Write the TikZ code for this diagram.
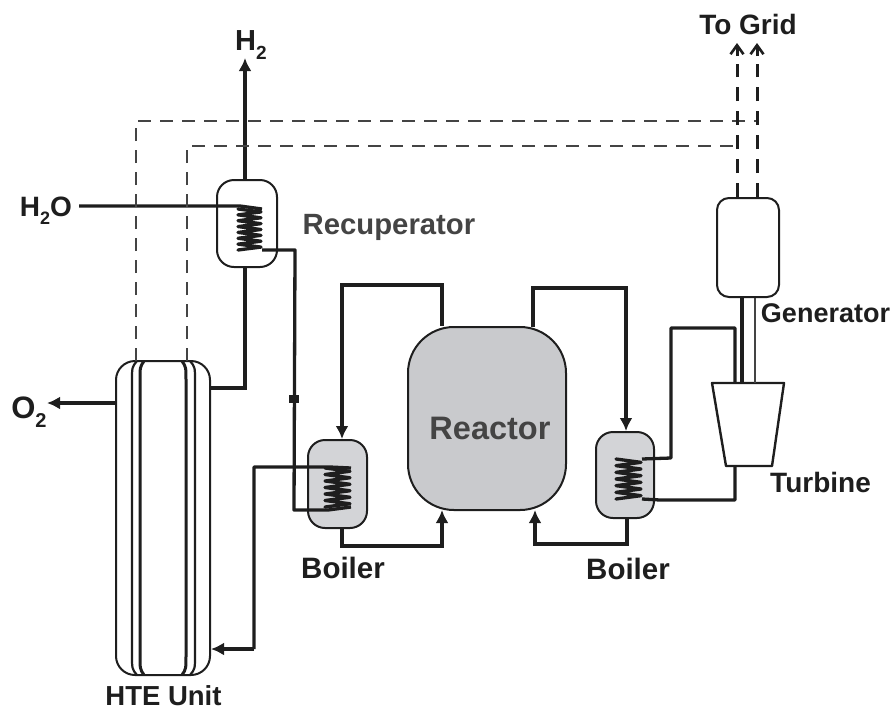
\documentclass[tikz,border=0pt]{standalone}
\usepackage{fontspec}
\setmainfont{Liberation Sans}
\usetikzlibrary{arrows.meta,calc}
\definecolor{vesselgray}{HTML}{D3D4D7}
\definecolor{reactorgray}{HTML}{C9CACD}
\definecolor{inkdark}{HTML}{1E1E1E}
\definecolor{inkgray}{HTML}{444444}
\newcommand{\tsize}[1]{\fontsize{#1}{#1}\selectfont\bfseries}
\newcommand{\subtwo}[1]{\raisebox{-.3em}{\fontsize{#1}{#1}\selectfont 2}}
\tikzset{
  vessel/.style={draw=inkdark,line width=2pt,inner sep=0pt,rounded corners=17pt,fill=white},
  pipe/.style={draw=inkdark,line width=3.3pt,line join=miter},
  thinpipe/.style={draw=inkdark,line width=2.2pt},
  coilline/.style={draw=inkdark,line width=3.3pt,line join=round,line cap=round},
  sigdash/.style={draw=inkgray,line width=2.2pt,dash pattern=on 13pt off 9pt},
  griddash/.style={draw=inkdark,line width=3pt,dash pattern=on 14pt off 10pt},
  headin/.style={-{Latex[length=13pt,width=13pt]}},
  headgrid/.style={-{Straight Barb[length=9pt,width=13pt,line width=2.6pt]}},
  lab/.style={inner sep=0pt,text=inkdark},
}
\newcommand{\coil}[5]{% x1 x2 ytop ybot n
  \pgfmathsetmacro{\dy}{(#4-#3)/(2*#5)}
  \draw[coilline] (#1,#3)
  \foreach \i in {1,...,#5}{ -- (#2,{#3+(2*\i-1)*\dy}) -- (#1,{#3+2*\i*\dy}) };
}
\begin{document}
\begin{tikzpicture}[x=1pt,y=-1pt]
\useasboundingbox (0,0) rectangle (893,710);
% vessels
\node[vessel,rounded corners=19pt,minimum width=94pt,minimum height=314pt] (hte) at (163,518) {};
\node[vessel,minimum width=60pt,minimum height=87pt] (recup) at (247,223.5) {};
\node[vessel,fill=vesselgray,minimum width=59pt,minimum height=88pt] (boilL) at (337.5,484) {};
\node[vessel,fill=vesselgray,minimum width=58pt,minimum height=86pt] (boilR) at (625,475) {};
\node[vessel,fill=reactorgray,rounded corners=46pt,minimum width=158pt,minimum height=183pt] (reactor) at (487,418.5) {};
\node[vessel,rounded corners=12pt,minimum width=62pt,minimum height=99pt] (gen) at (748,247.5) {};
\coordinate (turbA) at (712,383); \coordinate (turbB) at (784,383);
\coordinate (turbC) at (772,466); \coordinate (turbD) at (726,466);
\draw[draw=inkdark,line width=2.4pt,line join=round] (turbA) -- (turbB) -- (turbC) -- (turbD) -- cycle;
% HTE inner walls
\coordinate (wa) at (132,361); \coordinate (wb) at (140,361);
\coordinate (wc) at (186,361); \coordinate (wd) at (195,361);
\draw[thinpipe] ($(wa)+(5,0)$) .. controls ($(wa)+(0,6)$) .. ($(wa)+(0,20)$) -- ($(wa)+(0,294)$) .. controls ($(wa)+(0,308)$) .. ($(wa)+(5,314)$);
\draw[pipe,line width=3pt] ($(wb)+(4,0)$) .. controls ($(wb)+(0,6)$) .. ($(wb)+(0,20)$) -- ($(wb)+(0,294)$) .. controls ($(wb)+(0,308)$) .. ($(wb)+(4,314)$);
\draw[pipe,line width=3pt] ($(wc)+(-4,0)$) .. controls ($(wc)+(0,6)$) .. ($(wc)+(0,20)$) -- ($(wc)+(0,294)$) .. controls ($(wc)+(0,308)$) .. ($(wc)+(-4,314)$);
\draw[thinpipe] ($(wd)+(-5,0)$) .. controls ($(wd)+(0,6)$) .. ($(wd)+(0,20)$) -- ($(wd)+(0,294)$) .. controls ($(wd)+(0,308)$) .. ($(wd)+(-5,314)$);
% coils
\coil{238}{261}{209}{250}{7}
\coil{325}{350}{468}{507}{6}
\coil{616}{641}{459}{499}{6}
% coordinates
\coordinate (h2tip) at (245,58);
\coordinate (h2o) at (79,206);
\coordinate (o2tip) at (47,403);
\coordinate (junction) at (294,399);
\coordinate (sigA) at (136,121);
\coordinate (sigB) at (187,146);
\coordinate (gridA) at (737,43);
\coordinate (gridB) at (757,43);
% process pipes
\draw[pipe,headin] (recup.north -| h2tip) -- (h2tip);
\draw[pipe] (recup.south -| h2tip) -- (245,388) -- (hte.east |- 0,388);
\draw[pipe,line join=round] (h2o) -- (240,206) -- (262,209);
\draw[pipe,line join=round] (262,250) -- (295,250) -- (294,510) -- (328,510) -- (351,507);
\draw[pipe,line join=round] (351,468) -- (330,467) -- (254,467) -- (254,649);
\draw[pipe,headin] (254,649) -- (hte.east |- 0,649);
\draw[pipe,headin] (hte.west |- o2tip) -- (o2tip);
\fill[inkdark] (junction) ++(-5,-4) rectangle ++(10,8);
% reactor loops
\draw[pipe,headin] (reactor.north -| 442,0) -- (442,285) -- (342,285) -- (boilL.north -| 342,0);
\draw[pipe,headin] (boilL.south -| 342,0) -- (342,546) -- (442,546) -- (442,510);
\draw[pipe,headin] (533,327) -- (533,288) -- (626,288) -- (boilR.north -| 626,0);
\draw[pipe,headin] (boilR.south -| 627,0) -- (627,544) -- (535,544) -- (535,510);
% turbine loop
\draw[pipe,line join=round] (642,459) -- (671,458) -- (671,328) -- (735,328) -- (735,383);
\draw[pipe,line join=round] (642,499) -- (660,500) -- (735,500) -- (735,466);
% shafts
\draw[pipe] (gen.south -| 742,0) -- (742,383);
\draw[draw=inkgray,line width=2pt] (gen.south -| 755,0) -- (755,383);
% signal lines
\draw[sigdash] (136,361) -- (sigA) -- (757,121);
\draw[sigdash,line width=2.7pt] (187,361) -- (sigB) -- (737,146);
\draw[griddash] (gen.north -| gridA) -- (737,64);
\draw[griddash] (gen.north -| gridB) -- (757,64);
\draw[draw=inkdark,headgrid,line width=3pt] (737,56) -- (gridA);
\draw[draw=inkdark,headgrid,line width=3pt] (757,56) -- (gridB);
% labels
\node[lab] (lh2) at (251,45) {\tsize{29}H\subtwo{19}};
\node[lab] (lh2o) at (46,211) {\tsize{28}H\subtwo{18}O};
\node[lab] (lo2) at (29,412) {\tsize{31}O\subtwo{20}};
\node[lab] (lgrid) at (748,24) {\tsize{28}To Grid};
\node[lab,text=inkgray] (lrec) at (389,227) {\tsize{29.3}Recuperator};
\node[lab] (lgen) at (825.5,313) {\tsize{27}Generator};
\node[lab] (ltur) at (820.5,482) {\tsize{28}Turbine};
\node[lab] (lbl) at (343,568) {\tsize{29.5}Boiler};
\node[lab] (lbr) at (628,569) {\tsize{29.5}Boiler};
\node[lab] (lhte) at (163.5,696) {\tsize{27.5}HTE Unit};
\node[lab,text=inkgray] (lre) at (490,428) {\tsize{32.5}Reactor};
\end{tikzpicture}
\end{document}
